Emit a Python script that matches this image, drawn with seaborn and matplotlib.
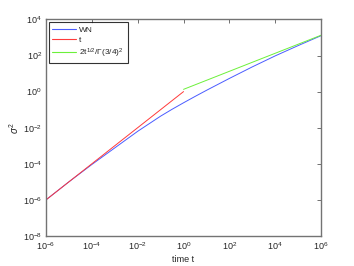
import numpy as np
import pandas as pd
import seaborn as sns
from matplotlib import pyplot as plt
from matplotlib.ticker import FixedLocator, NullLocator

# values (log-log plot), exponents of 10
wn_logt = [-6, -5, -4, -3, -2, -1.5, -1, -0.5, 0, 0.5, 1, 2, 3, 4, 5, 6]
wn_logv = [-6.0, -5.0, -4.04, -3.12, -2.2, -1.78, -1.36, -0.98, -0.62, -0.27,
           0.07, 0.73, 1.37, 1.98, 2.55, 3.1]
short_t = [1e-6, 1e0]
short_var = [1e-6, 1e0]
long_t = [1e0, 1e6]
long_var = [1.332, 1332.0]

xticks = [1e-6, 1e-4, 1e-2, 1e0, 1e2, 1e4, 1e6]
yticks = [1e-8, 1e-6, 1e-4, 1e-2, 1e0, 1e2, 1e4]

labels = ["WN", "t", "2t$^{1/2}$/Γ(3/4)$^2$"]
colors = ["#4a5cff", "#ff3a3a", "#6cf03a"]

sns.set_style("white")
plt.rcParams["font.family"] = ["Liberation Sans", "DejaVu Sans"]
plt.rcParams["mathtext.fontset"] = "custom"
plt.rcParams["mathtext.rm"] = "Liberation Sans"
plt.rcParams["mathtext.it"] = "Liberation Sans:italic"

fig = plt.figure(figsize=(3.54, 2.66), dpi=100)
ax = fig.add_axes([0.130, 0.113, 0.777, 0.814])

wn_t = [10.0 ** v for v in wn_logt]
wn_var = [10.0 ** v for v in wn_logv]
series = [(wn_t, wn_var), (short_t, short_var), (long_t, long_var)]
for (x, y), lab, col in zip(series, labels, colors):
    df = pd.DataFrame({"t": x, "v": y})
    sns.lineplot(data=df, x="t", y="v", ax=ax, color=col, lw=0.7, label=lab)

ax.set_xscale("log")
ax.set_yscale("log")
ax.set_xlim(1e-6, 1e6)
ax.set_ylim(1e-8, 1e4)
ax.xaxis.set_major_locator(FixedLocator(xticks))
ax.yaxis.set_major_locator(FixedLocator(yticks))
ax.xaxis.set_minor_locator(NullLocator())
ax.yaxis.set_minor_locator(NullLocator())
ax.tick_params(direction="in", length=3, width=0.6, color="0.35",
               labelsize=6.5, top=True, right=True, pad=3)
for sp in ax.spines.values():
    sp.set_color("0.45")
    sp.set_linewidth(1.0)

ax.set_xlabel("time t", fontsize=6.5, labelpad=2)
ax.set_ylabel("$\\sigma^2$", fontsize=7, labelpad=1)

leg = ax.legend(loc="upper left", fontsize=6, frameon=True, fancybox=False,
                borderpad=0.45, labelspacing=0.3, handlelength=2.9,
                handletextpad=0.35, borderaxespad=0.3)
leg.get_frame().set_edgecolor("black")
leg.get_frame().set_linewidth(0.8)
for line in leg.get_lines():
    line.set_linewidth(0.8)

fig.savefig("out.png", dpi=100)
